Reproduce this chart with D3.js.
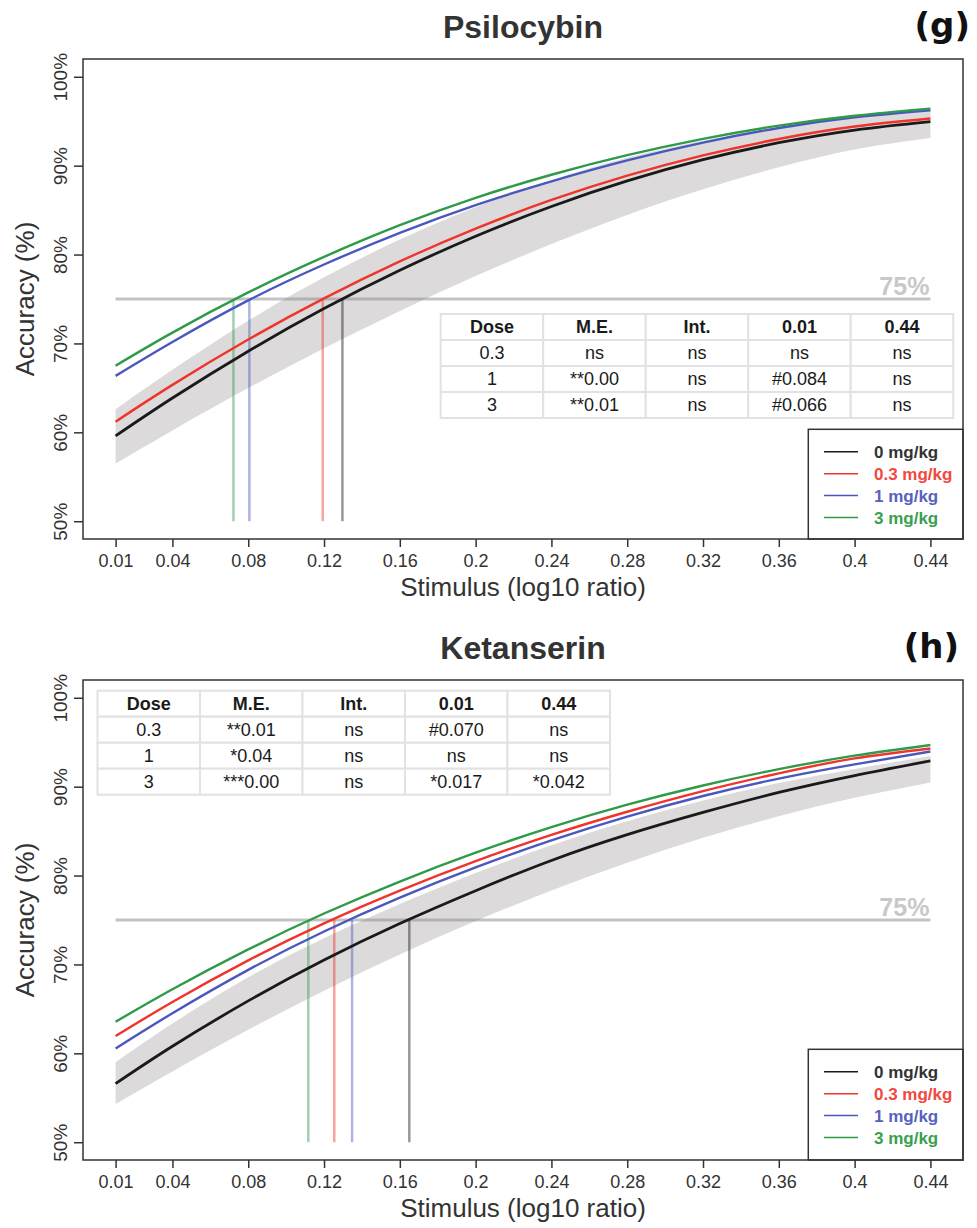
<!DOCTYPE html>
<meta charset="utf-8">
<head>
  <title>Psilocybin / Ketanserin psychometric curves</title>
</head>
<style>
  body { margin: 0; background: #fff; }
  svg { font-family: "Liberation Sans", Arial, sans-serif; }
  .axis path { display: none; }
  .axis line { stroke: #333; stroke-width: 1.5px; }
  .axis text { font-size: 18px; fill: #333; font-family: "Liberation Sans", Arial, sans-serif; }
  .yaxis text { font-size: 19px; }
  .title { font-size: 32px; font-weight: bold; fill: #333; }
  .panelTag { font-family: "DejaVu Sans", sans-serif; font-size: 34px; font-weight: bold; fill: #111; }
  .axisLabel { font-size: 26px; fill: #333; }
  .refLabel { font-size: 25px; font-weight: bold; fill: #c8c8c8; }
  .cell { fill: #fff; stroke: #e2e2e2; stroke-width: 2px; }
  .cellText { font-size: 18px; fill: #1a1a1a; }
  .legendText { font-size: 17px; font-weight: bold; }
</style>
<body>
<script src="https://cdn.jsdelivr.net/npm/d3@7/dist/d3.min.js"></script>
<script>
// ---- data ----
var stimulus = [0.01, 0.04, 0.08, 0.12, 0.16, 0.2, 0.24, 0.28, 0.32, 0.36, 0.4, 0.44];
var accuracyTicks = [50, 60, 70, 80, 90, 100];
var doseLabels = ["0 mg/kg", "0.3 mg/kg", "1 mg/kg", "3 mg/kg"];
var tableHeader = ["Dose", "M.E.", "Int.", "0.01", "0.44"];

// Psilocybin (g)
var psiDose0  = [59.6, 63.86, 69.13, 73.92, 78.23, 82.06, 85.41, 88.28, 90.67, 92.58, 94.01, 94.96];
var psiDose03 = [61.2, 65.34, 70.44, 75.07, 79.23, 82.92, 86.14, 88.88, 91.15, 93.0, 94.4, 95.3];
var psiDose1  = [66.35, 70.16, 74.84, 78.88, 82.44, 85.56, 88.24, 90.6, 92.6, 94.24, 95.44, 96.24];
var psiDose3  = [67.5, 71.22, 75.74, 79.74, 83.3, 86.38, 88.98, 91.18, 93.02, 94.5, 95.62, 96.42];
var psiBandLow  = [56.5, 60.22, 64.98, 69.46, 73.66, 77.58, 81.18, 84.46, 87.34, 89.82, 91.82, 93.1];
var psiBandHigh = [62.6, 67.04, 72.56, 77.44, 81.68, 85.32, 88.36, 90.88, 92.8, 94.28, 95.4, 96.2];
var psiThresholds = [0.1297, 0.1193, 0.0806, 0.0722];
var psiTableRows = [
  ["0.3", "ns", "ns", "ns", "ns"],
  ["1", "**0.00", "ns", "#0.084", "ns"],
  ["3", "**0.01", "ns", "#0.066", "ns"]
];

// Ketanserin (h)
var ketDose0  = [56.6, 60.8, 65.9, 70.5, 74.6, 78.3, 81.7, 84.6, 87.1, 89.35, 91.25, 92.9];
var ketDose03 = [61.94, 65.78, 70.46, 74.62, 78.3, 81.62, 84.58, 87.18, 89.5, 91.5, 93.18, 94.3];
var ketDose1  = [60.55, 64.51, 69.39, 73.71, 77.51, 80.91, 83.95, 86.63, 88.95, 90.91, 92.51, 93.95];
var ketDose3  = [63.55, 67.21, 71.69, 75.73, 79.33, 82.57, 85.45, 87.97, 90.13, 91.97, 93.49, 94.69];
var ketBandLow  = [54.3, 57.96, 62.64, 67.04, 71.12, 74.88, 78.32, 81.44, 84.24, 86.68, 88.76, 90.48];
var ketBandHigh = [59.0, 63.35, 68.55, 72.95, 76.79, 80.3, 83.4, 86.1, 88.45, 90.4, 92.0, 93.45];
var ketThresholds = [0.165, 0.1254, 0.1348, 0.1117];
var ketTableRows = [
  ["0.3", "**0.01", "ns", "#0.070", "ns"],
  ["1", "*0.04", "ns", "ns", "ns"],
  ["3", "***0.00", "ns", "*0.017", "*0.042"]
];

// ---- styles ----
var lineColors = ["#1a1a1a", "#f0342c", "#4a58be", "#2f9a47"];
var textColors = ["#333333", "#f04a40", "#5563bd", "#3a9f50"];

var W = 977, H = 1228,
    left = 83, right = 963;

var svg = d3.select("body").append("svg")
    .attr("width", W)
    .attr("height", H);

var panels = [
  { title: "Psilocybin", tag: "(g)", tagX: 970, top: 59, bottom: 539,
    series: [psiDose0, psiDose03, psiDose1, psiDose3],
    low: psiBandLow, high: psiBandHigh, thresholds: psiThresholds,
    rows: psiTableRows, tableX: 440.7, tableY: 314, legendTop: 429.3 },
  { title: "Ketanserin", tag: "(h)", tagX: 959, top: 680, bottom: 1160,
    series: [ketDose0, ketDose03, ketDose1, ketDose3],
    low: ketBandLow, high: ketBandHigh, thresholds: ketThresholds,
    rows: ketTableRows, tableX: 97.5, tableY: 690.7, legendTop: 1049.3 }
];

panels.forEach(drawPanel);

function drawPanel(p) {
  // R-style 4% padding on both axes
  var span = 0.44 - 0.01;
  var x = d3.scaleLinear()
      .domain([0.01 - span * 0.04, 0.44 + span * 0.04])
      .range([left, right]);
  var y = d3.scaleLinear()
      .domain([48, 102])
      .range([p.bottom, p.top]);

  var g = svg.append("g");

  // confidence band of the vehicle curve
  var band = stimulus.map(function(s, i) { return { s: s, lo: p.low[i], hi: p.high[i] }; });
  g.append("path")
      .datum(band)
      .attr("fill", "#dcdadb")
      .attr("d", d3.area()
        .x(function(d) { return x(d.s); })
        .y0(function(d) { return y(d.lo); })
        .y1(function(d) { return y(d.hi); })
        .curve(d3.curveNatural));

  // 75% reference line
  g.append("line")
      .attr("x1", x(0.01)).attr("x2", x(0.44))
      .attr("y1", y(75)).attr("y2", y(75))
      .attr("stroke", "#888")
      .attr("stroke-opacity", 0.5)
      .attr("stroke-width", 3);

  // threshold drop lines
  p.thresholds.forEach(function(t, i) {
    g.append("line")
        .attr("x1", x(t)).attr("x2", x(t))
        .attr("y1", y(50)).attr("y2", y(75))
        .attr("stroke", lineColors[i])
        .attr("stroke-opacity", 0.45)
        .attr("stroke-width", 2.5);
  });

  // fitted curves
  var line = d3.line()
      .x(function(d, i) { return x(stimulus[i]); })
      .y(function(d) { return y(d); })
      .curve(d3.curveNatural);
  p.series.forEach(function(s, i) {
    g.append("path")
        .datum(s)
        .attr("fill", "none")
        .attr("stroke", lineColors[i])
        .attr("stroke-width", i === 0 ? 2.8 : 2.4)
        .attr("d", line);
  });

  g.append("text")
      .attr("class", "refLabel")
      .attr("x", x(0.44) - 1)
      .attr("y", y(75) - 4)
      .attr("text-anchor", "end")
      .text("75%");

  // stats table
  var cw = 102.5, rh = 26;
  var allRows = [tableHeader].concat(p.rows);
  allRows.forEach(function(row, r) {
    row.forEach(function(v, c) {
      g.append("rect")
          .attr("class", "cell")
          .attr("x", p.tableX + c * cw)
          .attr("y", p.tableY + r * rh)
          .attr("width", cw)
          .attr("height", rh);
      g.append("text")
          .attr("class", "cellText")
          .attr("x", p.tableX + c * cw + cw / 2)
          .attr("y", p.tableY + r * rh + rh / 2)
          .attr("dy", "0.36em")
          .attr("text-anchor", "middle")
          .style("font-weight", r === 0 ? "bold" : "normal")
          .text(v);
    });
  });

  // legend
  g.append("rect")
      .attr("x", 808.3)
      .attr("y", p.legendTop)
      .attr("width", right - 808.3)
      .attr("height", p.bottom - p.legendTop)
      .attr("fill", "#fff")
      .attr("stroke", "#333")
      .attr("stroke-width", 1.5);
  doseLabels.forEach(function(lbl, i) {
    var ly = p.legendTop + 22.5 + i * 21.9;
    g.append("line")
        .attr("x1", 824).attr("x2", 858)
        .attr("y1", ly).attr("y2", ly)
        .attr("stroke", lineColors[i])
        .attr("stroke-width", 1.5);
    g.append("text")
        .attr("class", "legendText")
        .attr("x", 874)
        .attr("y", ly)
        .attr("dy", "0.36em")
        .attr("fill", textColors[i])
        .text(lbl);
  });

  // plot frame
  g.append("rect")
      .attr("x", left)
      .attr("y", p.top)
      .attr("width", right - left)
      .attr("height", p.bottom - p.top)
      .attr("fill", "none")
      .attr("stroke", "#333")
      .attr("stroke-width", 1.5);

  // x axis
  g.append("g")
      .attr("class", "axis")
      .attr("transform", "translate(0," + p.bottom + ")")
      .call(d3.axisBottom(x)
        .tickValues(stimulus)
        .tickSize(8)
        .tickSizeOuter(0)
        .tickFormat(function(d) { return String(d); }))
    .selectAll("text")
      .attr("y", 28)
      .attr("dy", null);

  // y axis
  g.append("g")
      .attr("class", "axis yaxis")
      .attr("transform", "translate(" + left + ",0)")
      .call(d3.axisLeft(y)
        .tickValues(accuracyTicks)
        .tickSize(9)
        .tickSizeOuter(0)
        .tickFormat(function(d) { return d + "%"; }))
    .selectAll("text")
      .attr("x", 0)
      .attr("y", -16)
      .attr("dy", null)
      .attr("text-anchor", "middle")
      .attr("transform", "rotate(-90)");

  // labels
  g.append("text")
      .attr("class", "axisLabel")
      .attr("x", (left + right) / 2)
      .attr("y", p.bottom + 57)
      .attr("text-anchor", "middle")
      .text("Stimulus (log10 ratio)");

  g.append("text")
      .attr("class", "axisLabel")
      .attr("transform", "translate(34," + (p.top + p.bottom) / 2 + ") rotate(-90)")
      .attr("text-anchor", "middle")
      .text("Accuracy (%)");

  g.append("text")
      .attr("class", "title")
      .attr("x", (left + right) / 2)
      .attr("y", p.top - 21)
      .attr("text-anchor", "middle")
      .text(p.title);

  g.append("text")
      .attr("class", "panelTag")
      .attr("x", p.tagX)
      .attr("y", p.top - 22)
      .attr("text-anchor", "end")
      .text(p.tag);
}
</script>
</body>
